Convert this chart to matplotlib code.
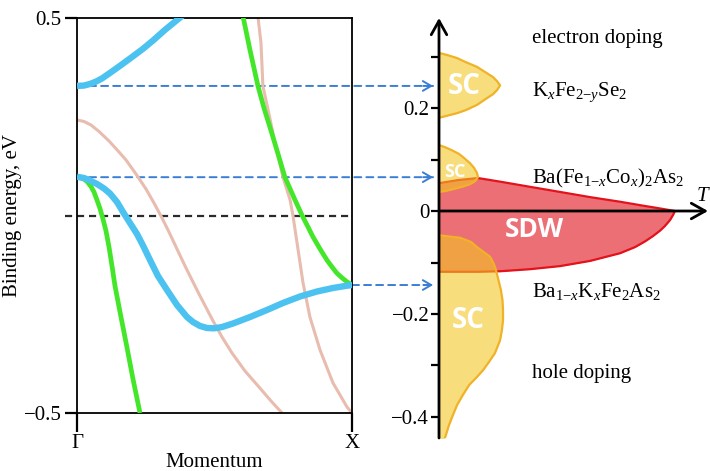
import matplotlib
matplotlib.use("Agg")
import matplotlib.pyplot as plt

plt.rcParams["font.family"] = ["Liberation Serif", "DejaVu Serif"]
plt.rcParams["mathtext.fontset"] = "custom"
plt.rcParams["mathtext.rm"] = "Liberation Serif"
plt.rcParams["mathtext.it"] = "Liberation Serif:italic"
plt.rcParams["mathtext.bf"] = "Liberation Serif:bold"

# ---------------- band structure along Gamma-X (momentum k: 0 -> 1, energy in eV)
blue_top_k = [0, 0.0255, 0.0473, 0.0691, 0.0909, 0.12, 0.1564, 0.2036, 0.24, 0.2764, 0.32,
              0.3745, 0.3964]
blue_top_E = [0.328, 0.329, 0.333, 0.339, 0.347, 0.361, 0.379, 0.403, 0.422, 0.443, 0.470,
              0.501, 0.513]

blue_low_k = [0, 0.0255, 0.0473, 0.0727, 0.0982, 0.12, 0.1455, 0.1673, 0.1927, 0.2182, 0.24,
              0.2655, 0.2945, 0.3273, 0.3636, 0.4, 0.4218, 0.4473, 0.4727, 0.4982, 0.5273,
              0.5673, 0.6291, 0.6909, 0.7491, 0.8109, 0.8727, 0.9309, 0.9745, 1.0]
blue_low_E = [0.098, 0.0949, 0.0886, 0.0797, 0.0684, 0.0557, 0.0342, 0.0089, -0.019, -0.0468,
              -0.0759, -0.1127, -0.1532, -0.1886, -0.2266, -0.257, -0.2696, -0.2797, -0.2848,
              -0.2856, -0.2823, -0.2734, -0.257, -0.2392, -0.2215, -0.2051, -0.1924, -0.1835,
              -0.1785, -0.1759]

green_left_k = [0, 0.0218, 0.0364, 0.0509, 0.0618, 0.0727, 0.0836, 0.0945, 0.1055, 0.1164,
                0.1273, 0.1382, 0.1564, 0.18, 0.2036, 0.2291]
green_left_E = [0.098, 0.0937, 0.0861, 0.0734, 0.0595, 0.0392, 0.0177, -0.0089, -0.0392,
                -0.0797, -0.1278, -0.1785, -0.2443, -0.3278, -0.4139, -0.5]

green_right_k = [0.604, 0.629, 0.658, 0.68, 0.705, 0.731, 0.756, 0.793, 0.818, 0.84, 0.858,
                 0.884, 0.909, 0.927, 0.945, 0.964, 0.982, 1.0]
green_right_E = [0.503, 0.419, 0.328, 0.272, 0.216, 0.156, 0.097, 0.039, 0.001, -0.029, -0.054,
                 -0.085, -0.113, -0.130, -0.146, -0.158, -0.168, -0.176]

pink_left_k = [0, 0.0255, 0.0509, 0.08, 0.1164, 0.1527, 0.1782, 0.2145, 0.2509, 0.28, 0.3091,
               0.3345, 0.3636, 0.3964, 0.4436, 0.4909, 0.5273, 0.5636, 0.6109, 0.6618, 0.7055,
               0.7455]
pink_left_E = [0.2418, 0.238, 0.2291, 0.2127, 0.1886, 0.1608, 0.1405, 0.1051, 0.0671, 0.0316,
               -0.0063, -0.0418, -0.0848, -0.1329, -0.1987, -0.262, -0.3076, -0.3481, -0.3937,
               -0.4342, -0.4696, -0.5]

pink_right_k = [0.658, 0.669, 0.676, 0.695, 0.72, 0.749, 0.775, 0.785, 0.804, 0.822, 0.847,
                0.884, 0.931, 0.982, 1.0]
pink_right_E = [0.503, 0.437, 0.328, 0.267, 0.184, 0.097, 0.039, 0.001, -0.087, -0.171, -0.257,
                -0.341, -0.424, -0.485, -0.5]

k_ticks = [0, 1]
k_labels = ["\u0393", "X"]
E_ticks = [-0.5, 0.5]

# doping levels marked by arrows: (band energy, start momentum)
arrow_E = [0.328, 0.097, -0.176]
arrow_k = [0.0, 0.0, 1.0]

# ---------------- phase diagram (vertical: doping level, horizontal: temperature)
sc_e_dop = [0.307, 0.303, 0.297, 0.289, 0.280, 0.270, 0.260, 0.252, 0.244, 0.235, 0.227,
            0.218, 0.206, 0.196, 0.190, 0.185, 0.181]
sc_e_Tc = [0, 0.030, 0.067, 0.100, 0.141, 0.171, 0.201, 0.216, 0.227, 0.216, 0.201, 0.175,
           0.141, 0.100, 0.067, 0.030, 0]

sc_co_dop = [0.128, 0.124, 0.118, 0.111, 0.103, 0.093, 0.084, 0.074, 0.066, 0.058, 0.052,
             0.047, 0.043, 0.039, 0.037]
sc_co_Tc = [0, 0.022, 0.048, 0.074, 0.093, 0.115, 0.130, 0.141, 0.145, 0.134, 0.115, 0.086,
            0.056, 0.026, 0]

sc_h_dop = [-0.047, -0.049, -0.052, -0.060, -0.070, -0.080, -0.089, -0.103, -0.115, -0.134,
            -0.153, -0.173, -0.192, -0.212, -0.231, -0.251, -0.276, -0.293, -0.309, -0.324,
            -0.338, -0.357, -0.377, -0.396, -0.416, -0.441, -0.455]
sc_h_Tc = [0, 0.030, 0.078, 0.119, 0.141, 0.167, 0.190, 0.204, 0.212, 0.221, 0.230, 0.236,
           0.238, 0.238, 0.234, 0.227, 0.208, 0.186, 0.164, 0.138, 0.112, 0.089, 0.067, 0.052,
           0.037, 0.022, 0.015]

sdw_T = [0, 0.07, 0.145, 0.227, 0.338, 0.45, 0.561, 0.673, 0.729, 0.766, 0.796, 0.822, 0.840,
         0.859, 0.870, 0.877]
sdw_top = [0.054, 0.060, 0.064, 0.057, 0.047, 0.037, 0.027, 0.018, 0.013, 0.0097, 0.0072,
           0.0049, 0.0033, 0.0016, 0.0006, 0]
sdw_bot = [-0.118, -0.118, -0.118, -0.117, -0.113, -0.107, -0.097, -0.082, -0.070, -0.059,
           -0.0485, -0.038, -0.029, -0.0175, -0.0078, 0]

pd_ticks = [-0.4, -0.3, -0.2, -0.1, 0, 0.1, 0.2, 0.3]
pd_labels = ["\u22120.4", "", "\u22120.2", "", "0", "", "0.2", ""]

# ---------------- colours
c_blue = "#4cc2f1"
c_green = "#44e62a"
c_pink = "#e8bcae"
c_arrow = "#3b7fd4"
c_sc_fill = "#f3c61f"
c_sc_edge = "#f0b227"
c_sdw_fill = "#ec6f76"
c_sdw_edge = "#e3121b"

fig = plt.figure(figsize=(7.10, 4.71), dpi=100)
ax1 = fig.add_axes([77 / 710, 58 / 471, 275 / 710, 395 / 471])
ax2 = fig.add_axes([439 / 710, 33 / 471, 269 / 710, 420 / 471])

# ---- left panel
ax1.set_xlim(0, 1)
ax1.set_ylim(-0.5, 0.5)
for s in ax1.spines.values():
    s.set_linewidth(1.3)
ax1.axhline(0, xmin=-0.045, xmax=1, color="#2b2b2b", lw=1.6, ls=(0, (3.2, 2.2)),
            clip_on=False, zorder=1)

line_kw = dict(solid_capstyle="butt", solid_joinstyle="round")
ax1.plot(pink_left_k, pink_left_E, color=c_pink, lw=2.2, zorder=2, **line_kw)
ax1.plot(pink_right_k, pink_right_E, color=c_pink, lw=2.2, zorder=2, **line_kw)
ax1.plot(green_left_k, green_left_E, color=c_green, lw=3.4, zorder=3, **line_kw)
ax1.plot(green_right_k, green_right_E, color=c_green, lw=3.4, zorder=3, **line_kw)
ax1.plot(blue_low_k, blue_low_E, color=c_blue, lw=4.6, zorder=4, **line_kw)
ax1.plot(blue_top_k, blue_top_E, color=c_blue, lw=4.6, zorder=4, **line_kw)

ax1.set_xticks(k_ticks)
ax1.set_xticklabels(k_labels, fontsize=15)
ax1.set_yticks(E_ticks)
ax1.set_yticklabels(["0.5" if v > 0 else "\u22120.5" for v in E_ticks], fontsize=15)
ax1.tick_params(axis="x", direction="out", length=14, width=1.6, pad=1)
ax1.tick_params(axis="y", direction="out", length=9, width=1.6, pad=2)
ax1.set_xlabel("Momentum", fontsize=15, labelpad=0)
ax1.set_ylabel("Binding energy, eV", fontsize=15)
ax1.yaxis.set_label_coords(-0.2, 0.5)

# ---- right panel
ax2.set_xlim(0, 1)
ax2.set_ylim(-0.4408, 0.3748)
for s in ax2.spines.values():
    s.set_visible(False)
ax2.set_xticks([])
ax2.set_yticks(pd_ticks)
ax2.set_yticklabels(pd_labels, fontsize=15)
ax2.tick_params(axis="y", direction="out", length=6, width=1.6, pad=1)

ax2.fill_between(sdw_T, sdw_bot, sdw_top, color=c_sdw_fill, lw=0, zorder=2)
ax2.plot(sdw_T, sdw_top, color=c_sdw_edge, lw=1.6, zorder=3, **line_kw)
ax2.plot(sdw_T, sdw_bot, color=c_sdw_edge, lw=1.6, zorder=3, **line_kw)

for dop, tc in [(sc_e_dop, sc_e_Tc), (sc_co_dop, sc_co_Tc), (sc_h_dop, sc_h_Tc)]:
    ax2.fill_betweenx(dop, 0, tc, color=c_sc_fill, alpha=0.58, lw=0, zorder=4)
    ax2.plot(tc, dop, color=c_sc_edge, lw=1.6, zorder=5, **line_kw)

# axes with open arrowheads
ax2.annotate("", xy=(0, 1), xytext=(0, 0), xycoords="axes fraction",
             arrowprops=dict(arrowstyle="->,head_length=0.5,head_width=0.28", lw=2,
                             color="black", shrinkA=0, shrinkB=0, mutation_scale=20),
             zorder=6, annotation_clip=False)
ax2.annotate("", xy=(1, 0), xytext=(0, 0), xycoords=ax2.get_yaxis_transform(),
             arrowprops=dict(arrowstyle="->,head_length=0.5,head_width=0.28", lw=2,
                             color="black", shrinkA=0, shrinkB=0, mutation_scale=20),
             zorder=6, annotation_clip=False)
ax2.text(0.978, 0.029, "T", fontsize=15, style="italic", ha="center", va="center",
         clip_on=False)

sans_bold = dict(family=["Open Sans", "DejaVu Sans"], weight="bold", color="white",
                 ha="center", va="center", zorder=7)
ax2.text(0.093, 0.241, "SC", fontsize=20, **sans_bold)
ax2.text(0.058, 0.075, "SC", fontsize=13, **sans_bold)
ax2.text(0.353, -0.035, "SDW", fontsize=19, **sans_bold)
ax2.text(0.108, -0.212, "SC", fontsize=20, **sans_bold)

x_lab = 0.346
ax2.text(x_lab, 0.326, "electron doping", fontsize=15, va="baseline")
ax2.text(x_lab, 0.223, r"$\mathrm{K}_{x}\mathrm{Fe}_{2\mathrm{-}y}\mathrm{Se}_{2}$",
         fontsize=15, va="baseline")
ax2.text(x_lab, 0.054, r"$\mathrm{Ba(Fe}_{1\mathrm{-}x}\mathrm{Co}_{x}\mathrm{)}_{2}\mathrm{As}_{2}$",
         fontsize=15, va="baseline")
ax2.text(x_lab, -0.167, r"$\mathrm{Ba}_{1\mathrm{-}x}\mathrm{K}_{x}\mathrm{Fe}_{2}\mathrm{As}_{2}$",
         fontsize=15, va="baseline")
ax2.text(x_lab, -0.324, "hole doping", fontsize=15, va="baseline")

# ---- dashed arrows linking band energies to doping levels
end_T = -0.022
mixed = (ax2.transData, ax1.transData)
for e, k0 in zip(arrow_E, arrow_k):
    ax1.annotate("", xy=(end_T, e), xycoords=mixed, xytext=(k0, e), textcoords="data",
                 arrowprops=dict(arrowstyle="-", lw=1.4, color=c_arrow,
                                 linestyle=(0, (3.6, 2.6)), shrinkA=0, shrinkB=0),
                 annotation_clip=False, zorder=1)
    ax1.annotate("", xy=(end_T, e), xycoords=mixed, xytext=(-7, 0),
                 textcoords="offset points",
                 arrowprops=dict(arrowstyle="->,head_length=0.6,head_width=0.35", lw=1.4,
                                 color=c_arrow, shrinkA=0, shrinkB=0, mutation_scale=10),
                 annotation_clip=False, zorder=1)

fig.savefig("out.png", dpi=100)
